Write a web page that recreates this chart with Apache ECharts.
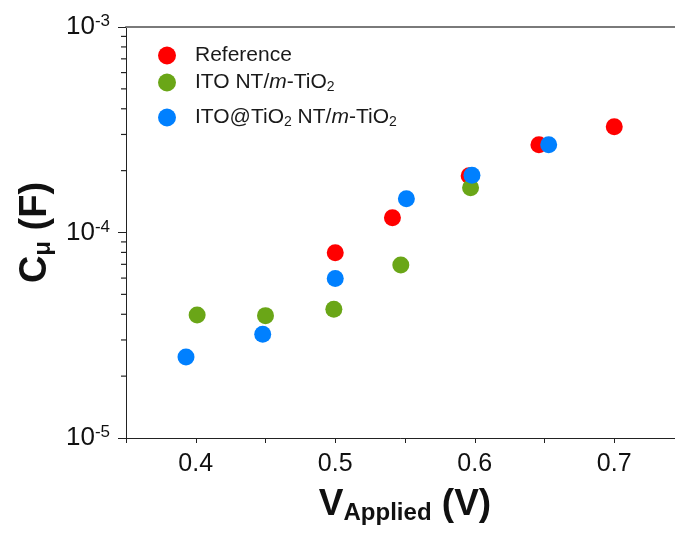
<!DOCTYPE html>
<html>
<head>
<meta charset="utf-8">
<script src="https://cdn.jsdelivr.net/npm/echarts@6/dist/echarts.min.js"></script>
<style>html,body{margin:0;padding:0;background:#fff}#c{width:675px;height:533px}</style>
</head>
<body>
<div id="c"></div>
<script>
// Data
const seriesNames = ['Reference', 'ITO NT/m-TiO2', 'ITO@TiO2 NT/m-TiO2'];
const vRef = [0.500, 0.541, 0.596, 0.646, 0.700];
const cRef = [7.98e-5, 1.18e-4, 1.89e-4, 2.67e-4, 3.27e-4];
const vITO = [0.401, 0.450, 0.499, 0.547, 0.597];
const cITO = [3.97e-5, 3.94e-5, 4.23e-5, 6.95e-5, 1.65e-4];
const vCore = [0.393, 0.448, 0.500, 0.551, 0.598, 0.653];
const cCore = [2.48e-5, 3.20e-5, 5.98e-5, 1.46e-4, 1.90e-4, 2.67e-4];
const xTickLabels = [0.4, 0.5, 0.6, 0.7];
const yMinorTicks = [2e-5,3e-5,4e-5,5e-5,6e-5,7e-5,8e-5,9e-5,2e-4,3e-4,4e-4,5e-4,6e-4,7e-4,8e-4,9e-4];

const colors = ['#ff0000', '#6aa617', '#0080ff'];
const FONT = '"Liberation Sans", Arial, sans-serif';
const X_MIN = 0.35, X_MAX = 0.75;

const legendRich = {
  'Reference': '{t|Reference}',
  'ITO NT/m-TiO2': '{t|ITO NT/}{i|m}{t|-TiO}{s|2}',
  'ITO@TiO2 NT/m-TiO2': '{t|ITO@TiO}{s|2}{t| NT/}{i|m}{t|-TiO}{s|2}'
};
const legendText = {
  padding: [0, 0, 0, 14],
  rich: {
    t: {fontFamily: FONT, fontSize: 21, color: '#1a1a1a', lineHeight: 24},
    i: {fontFamily: FONT, fontSize: 21, color: '#1a1a1a', fontStyle: 'italic', lineHeight: 24},
    s: {fontFamily: FONT, fontSize: 14, color: '#1a1a1a', verticalAlign: 'bottom', lineHeight: 14}
  }
};
function mkLegend(name, top) {
  return {
    data: [name], left: 158, top: top, orient: 'vertical', padding: 0,
    icon: 'circle', itemWidth: 18, itemHeight: 18,
    formatter: n => legendRich[n], textStyle: legendText
  };
}
function pairs(xs, ys) { return xs.map((x, i) => [x, ys[i]]); }

const chart = echarts.init(document.getElementById('c'), null, {renderer: 'canvas'});
chart.setOption({
  animation: false,
  backgroundColor: '#fff',
  grid: {left: 126, top: 27, width: 558, height: 411, containLabel: false, outerBoundsMode: 'none'},
  legend: [mkLegend(seriesNames[0], 45), mkLegend(seriesNames[1], 72), mkLegend(seriesNames[2], 107)],
  xAxis: [{
    type: 'value', min: X_MIN, max: X_MAX, interval: 0.05,
    name: '{b|V}{s|Applied}{b| (V)}', nameLocation: 'middle', nameGap: 47,
    nameTextStyle: {rich: {
      b: {fontFamily: FONT, fontSize: 37, fontWeight: 'bold', color: '#111', lineHeight: 40},
      s: {fontFamily: FONT, fontSize: 24, fontWeight: 'bold', color: '#111', verticalAlign: 'bottom', lineHeight: 22}
    }},
    axisLine: {show: true, onZero: false, lineStyle: {color: '#222', width: 1}},
    axisTick: {show: true, inside: false, length: 5, lineStyle: {color: '#222'}},
    splitLine: {show: false},
    axisLabel: {
      margin: 14, fontFamily: FONT, fontSize: 25, color: '#111',
      formatter: v => xTickLabels.some(t => Math.abs(t - v) < 1e-6) ? v.toFixed(1) : ''
    }
  }, {
    type: 'value', position: 'top', min: X_MIN, max: X_MAX,
    axisLine: {show: true, onZero: false, lineStyle: {color: '#7a7a7a', width: 2}},
    axisTick: {show: false}, axisLabel: {show: false}, splitLine: {show: false}
  }],
  yAxis: [{
    type: 'log', logBase: 10, min: 1e-5, max: 1e-3, position: 'left',
    name: '{b|C}{s|μ}{b| (F)}', nameLocation: 'middle', nameGap: 68, nameRotate: 90,
    nameTextStyle: {rich: {
      b: {fontFamily: FONT, fontSize: 38, fontWeight: 'bold', color: '#111', lineHeight: 40},
      s: {fontFamily: FONT, fontSize: 24, fontWeight: 'bold', color: '#111', verticalAlign: 'bottom', lineHeight: 22}
    }},
    axisLine: {show: true, onZero: false, lineStyle: {color: '#222', width: 1}},
    axisTick: {show: true, inside: false, length: 8, lineStyle: {color: '#222'}},
    splitLine: {show: false},
    axisLabel: {
      margin: 16,
      formatter: v => '{m|10}{e|' + Math.round(Math.log10(v)) + '}',
      rich: {
        m: {fontFamily: FONT, fontSize: 26, color: '#111', lineHeight: 28},
        e: {fontFamily: FONT, fontSize: 17, color: '#111', verticalAlign: 'top', lineHeight: 18}
      }
    }
  }],
  series: [
    {name: seriesNames[0], type: 'scatter', data: pairs(vRef, cRef), symbolSize: 17, itemStyle: {color: colors[0], opacity: 1}},
    {name: seriesNames[1], type: 'scatter', data: pairs(vITO, cITO), symbolSize: 17, itemStyle: {color: colors[1], opacity: 1}},
    {name: seriesNames[2], type: 'scatter', data: pairs(vCore, cCore), symbolSize: 17, itemStyle: {color: colors[2], opacity: 1}},
    {
      // minor ticks (2..9 x 10^n) on the log axis, placed through the axis scale
      type: 'custom', silent: true, clip: false, z: 5,
      data: yMinorTicks.map(v => [X_MIN, v]),
      renderItem: function (params, api) {
        const p = api.coord([api.value(0), api.value(1)]);
        return {
          type: 'line',
          shape: {x1: p[0] - 5, y1: p[1], x2: p[0], y2: p[1]},
          style: {stroke: '#222', lineWidth: 1.2}
        };
      }
    }
  ]
});
</script>
</body>
</html>
